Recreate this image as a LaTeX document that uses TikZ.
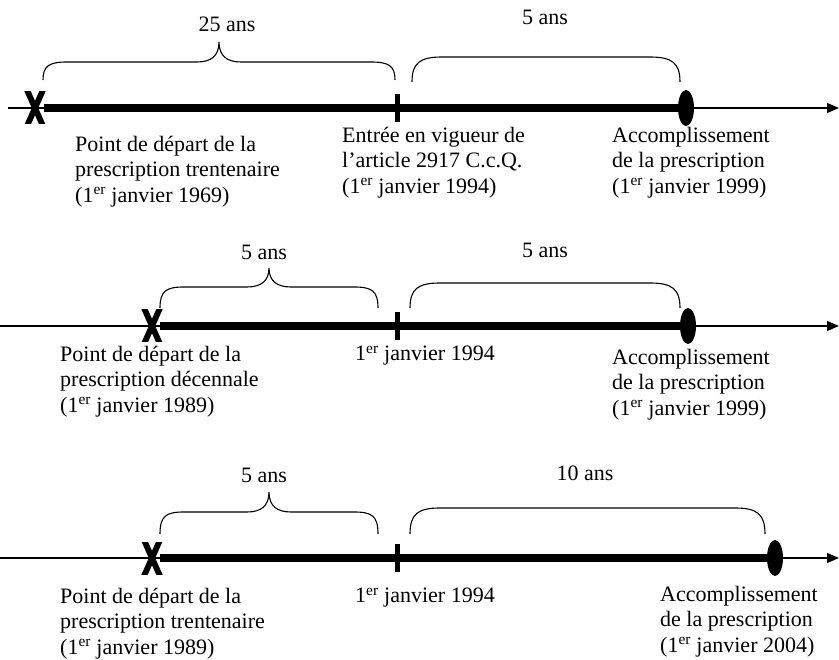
\documentclass[tikz,border=0pt]{standalone}
\usepackage{fontspec}
\setmainfont{Liberation Serif}
\usetikzlibrary{arrows.meta}
\tikzset{
  axisline/.style={line width=1.2pt, -{Triangle[length=12pt,width=10pt]}},
  bar/.style={line width=7.5pt},
  tickmark/.style={line width=5pt},
  xstroke/.style={line width=5.8pt},
  bracecurve/.style={line width=1.1pt},
  lbl/.style={font=\fontsize{22}{25.5}\selectfont, inner sep=0pt},
  txt/.style={lbl, align=left, anchor=north west},
}
\newcommand\crossmark[3]{% name, x, y
  \coordinate (#1) at (#2,#3);
  \begin{scope}
    \clip (#2-15,#3-16) rectangle (#2+15,#3+16);
    \draw[xstroke] (#2-8,#3-18) -- (#2+8,#3+18);
    \draw[xstroke] (#2+8,#3-18) -- (#2-8,#3+18);
  \end{scope}}
% curly brace with tip: x1, x2, yEnd, yH, yTip
\newcommand\curlybrace[5]{%
  \draw[bracecurve] (#1,#3) .. controls (#1,#4+4) and (#1+6,#4) .. (#1+24,#4)
    -- ({(#1+#2)/2-22},#4) .. controls ({(#1+#2)/2-8},#4) and ({(#1+#2)/2},#4-6) .. ({(#1+#2)/2},#5)
    .. controls ({(#1+#2)/2},#4-6) and ({(#1+#2)/2+8},#4) .. ({(#1+#2)/2+22},#4)
    -- (#2-24,#4) .. controls (#2-6,#4) and (#2,#4+4) .. (#2,#3);}
% rounded bracket: x1, x2, yEnd, yTop
\newcommand\roundbrace[4]{%
  \draw[bracecurve] (#1,#3) .. controls (#1,#4+6) and (#1+8,#4) .. (#1+30,#4)
    -- (#2-30,#4) .. controls (#2-8,#4) and (#2,#4+6) .. (#2,#3);}
\begin{document}
\begin{tikzpicture}[x=1pt,y=-1pt]
\useasboundingbox (0,0) rectangle (839,660);

% ---------- Row 1 ----------
\coordinate (s1) at (8,108);
\coordinate (e1) at (839,108);
\draw[axisline] (s1) -- (e1);
\coordinate (b1s) at (44,108);
\coordinate (b1e) at (686,108);
\draw[bar] (b1s) -- (b1e);
\crossmark{x1}{35}{108}
\coordinate (t1) at (397,108);
\draw[tickmark] ([yshift=14pt]t1) -- ([yshift=-14pt]t1);
\coordinate (o1) at (686,108);
\fill (o1) ellipse (8 and 18);
\curlybrace{43}{395}{80}{62}{42}
\node[lbl] (l11) at (227,24) {25 ans};
\roundbrace{412}{680}{82}{57}
\node[lbl] (l12) at (545,17) {5 ans};
\node[txt] (a1) at (75,136) {Point de départ de la\\prescription trentenaire\\(1\textsuperscript{er} janvier 1969)};
\node[txt] (b1) at (342,127) {Entrée en vigueur de\\l’article 2917 C.c.Q.\\(1\textsuperscript{er} janvier 1994)};
\node[txt] (c1) at (612,127) {Accomplissement\\de la prescription\\(1\textsuperscript{er} janvier 1999)};

% ---------- Row 2 ----------
\coordinate (s2) at (0,326);
\coordinate (e2) at (839,326);
\draw[axisline] (s2) -- (e2);
\coordinate (b2s) at (160,326);
\coordinate (b2e) at (688,326);
\draw[bar] (b2s) -- (b2e);
\crossmark{x2}{152}{326}
\coordinate (t2) at (397,326);
\draw[tickmark] ([yshift=14pt]t2) -- ([yshift=-14pt]t2);
\coordinate (o2) at (688,326);
\fill (o2) ellipse (8 and 18);
\curlybrace{160}{378}{308}{287}{268}
\node[lbl] (l21) at (264,252) {5 ans};
\roundbrace{410}{680}{308}{283}
\node[lbl] (l22) at (545,250) {5 ans};
\node[txt] (a2) at (60,346) {Point de départ de la\\prescription décennale\\(1\textsuperscript{er} janvier 1989)};
\node[txt] (b2) at (355,346) {1\textsuperscript{er} janvier 1994};
\node[txt] (c2) at (612,349) {Accomplissement\\de la prescription\\(1\textsuperscript{er} janvier 1999)};

% ---------- Row 3 ----------
\coordinate (s3) at (0,558);
\coordinate (e3) at (839,558);
\draw[axisline] (s3) -- (e3);
\coordinate (b3s) at (160,558);
\coordinate (b3e) at (775,558);
\draw[bar] (b3s) -- (b3e);
\crossmark{x3}{152}{558}
\coordinate (t3) at (397,558);
\draw[tickmark] ([yshift=14pt]t3) -- ([yshift=-14pt]t3);
\coordinate (o3) at (775,558);
\fill (o3) ellipse (8 and 18);
\curlybrace{160}{378}{534}{512}{492}
\node[lbl] (l31) at (264,475) {5 ans};
\roundbrace{410}{765}{534}{508}
\node[lbl] (l32) at (585,473) {10 ans};
\node[txt] (a3) at (60,588) {Point de départ de la\\prescription trentenaire\\(1\textsuperscript{er} janvier 1989)};
\node[txt] (b3) at (355,588) {1\textsuperscript{er} janvier 1994};
\node[txt] (c3) at (660,586) {Accomplissement\\de la prescription\\(1\textsuperscript{er} janvier 2004)};
\end{tikzpicture}
\end{document}
